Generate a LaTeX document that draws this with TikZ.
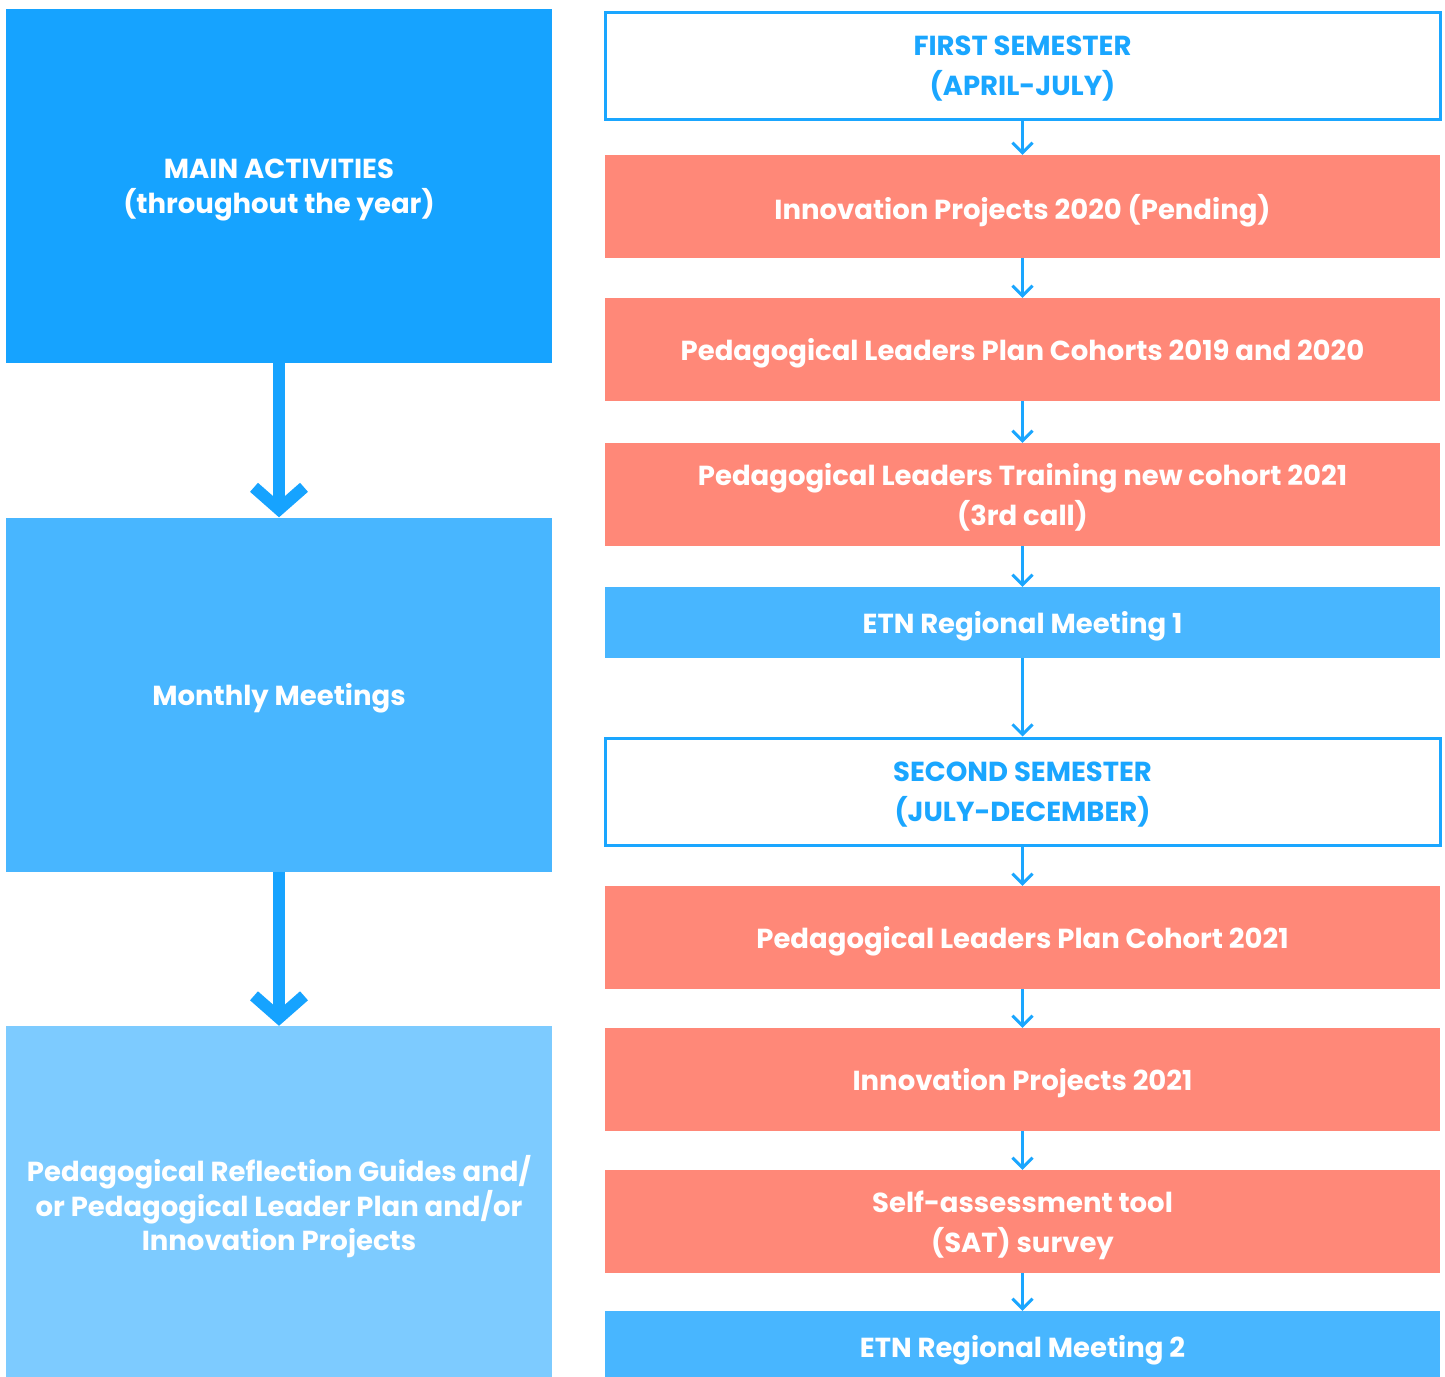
\documentclass[tikz,border=0pt]{standalone}
\usepackage{fontspec}
\setmainfont{Poppins}
\usetikzlibrary{arrows.meta,positioning}

\definecolor{darkblue}{HTML}{16A3FF}
\definecolor{midblue}{HTML}{48B6FF}
\definecolor{paleblue}{HTML}{7DCBFF}
\definecolor{salmon}{HTML}{FF8878}
\definecolor{lineblue}{HTML}{1AA6FF}

\begin{document}
\begin{tikzpicture}[x=1pt, y=-1pt,
    every node/.style={inner sep=0pt, align=center, text=white, text depth=0pt,
        font=\bfseries\fontsize{27.5}{40}\selectfont},
    leftbox/.style={minimum width=546pt, minimum height=354pt,
        font=\bfseries\fontsize{27.5}{34.5}\selectfont},
    stagebox/.style={minimum width=835pt, minimum height=103pt, fill=salmon},
    meetbox/.style={minimum width=835pt, minimum height=71pt, fill=midblue},
    semester/.style={minimum width=835pt, minimum height=107pt, fill=white,
        draw=lineblue, line width=3pt, text=lineblue},
    bigarrow/.style={draw=darkblue, line width=12pt,
        -{Straight Barb[length=22pt, width=50pt, line width=12pt]}},
    smallarrow/.style={draw=lineblue, line width=3pt,
        -{Straight Barb[length=10pt, width=20pt, line width=3pt]}}
]
    % Frame of the page
    \clip (0,0) rectangle (1445,1376);
    \fill[white] (0,0) rectangle (1445,1376);

    % Left column: activities through the year
    \node[leftbox, fill=darkblue] (main) at (279,186)
        {MAIN ACTIVITIES\\(throughout the year)};
    \node[leftbox, fill=midblue] (monthly) at (279,694.5) {Monthly Meetings};
    \node[leftbox, fill=paleblue] (guides) at (279,1203)
        {Pedagogical Reflection Guides and/\\or Pedagogical Leader Plan and/or\\Innovation Projects};

    \draw[bigarrow] (main.south) -- (monthly.north);
    \draw[bigarrow] (monthly.south) -- (guides.north);

    % Right column: first semester
    \node[semester] (first) at (1022.5,66) {FIRST SEMESTER\\(APRIL-JULY)};
    \node[stagebox] (innov20) at (1022.5,206.5) {Innovation Projects 2020 (Pending)};
    \node[stagebox] (cohorts) at (1022.5,349.5) {Pedagogical Leaders Plan Cohorts 2019 and 2020};
    \node[stagebox] (training) at (1022.5,494.5)
        {Pedagogical Leaders Training new cohort 2021\\(3rd call)};
    \node[meetbox] (etnone) at (1022.5,622.5) {ETN Regional Meeting 1};

    % Right column: second semester
    \node[semester] (second) at (1022.5,791.5) {SECOND SEMESTER\\(JULY-DECEMBER)};
    \node[stagebox] (cohort21) at (1022.5,937.5) {Pedagogical Leaders Plan Cohort 2021};
    \node[stagebox] (innov21) at (1022.5,1079.5) {Innovation Projects 2021};
    \node[stagebox] (sat) at (1022.5,1221.5) {Self-assessment tool\\(SAT) survey};
    \node[meetbox] (etntwo) at (1022.5,1346.5) {ETN Regional Meeting 2};

    % Connectors
    \foreach \a/\b in {first/innov20, innov20/cohorts, cohorts/training,
        training/etnone, etnone/second, second/cohort21, cohort21/innov21,
        innov21/sat, sat/etntwo}
        \draw[smallarrow] (\a.south) -- (\b.north);
\end{tikzpicture}
\end{document}
